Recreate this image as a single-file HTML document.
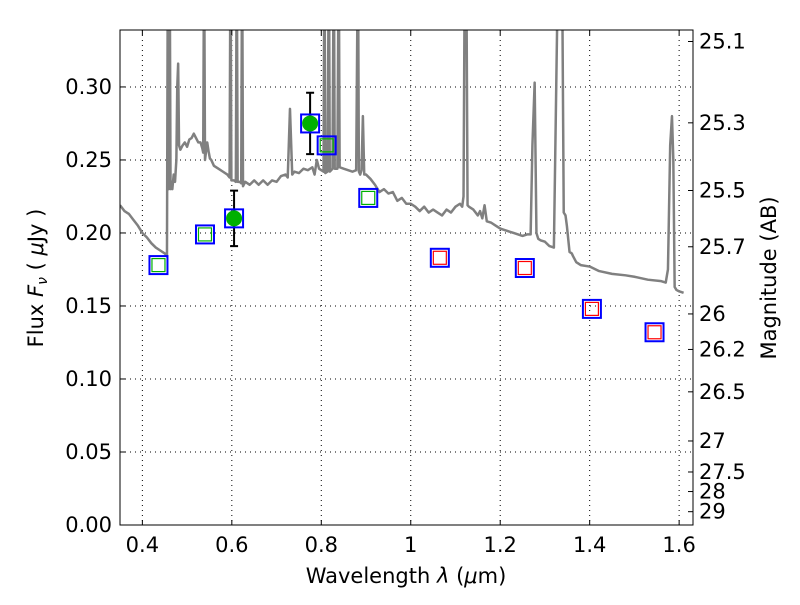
<!DOCTYPE html>
<html><head><meta charset="utf-8"><style>
body{margin:0;background:#fff}
svg text{font-family:"DejaVu Sans","Liberation Sans",sans-serif;fill:#000}
</style></head><body>
<svg id="c" width="800" height="600" xmlns="http://www.w3.org/2000/svg">
<defs><clipPath id="clip"><rect x="120" y="30" width="573" height="495"/></clipPath></defs>
<rect x="0" y="0" width="800" height="600" fill="#fff"/>
<g id="grid"></g>
<g id="spec" clip-path="url(#clip)"></g>
<g id="marks"></g>
<rect x="120" y="30" width="573" height="495" fill="none" stroke="#000" stroke-width="1"/>
<g id="axes"></g>
<text x="406" y="583" font-size="21" text-anchor="middle">Wavelength  <tspan font-style="italic">λ</tspan> (<tspan font-style="italic">μ</tspan>m)</text>
<text transform="translate(43,278) rotate(-90)" font-size="21" text-anchor="middle">Flux  <tspan font-style="italic">F</tspan><tspan font-style="italic" font-size="14" dy="4">ν</tspan><tspan dy="-4">  ( </tspan><tspan font-style="italic">μ</tspan>Jy )</text>
<text transform="translate(776,278) rotate(-90)" font-size="21" text-anchor="middle">Magnitude (AB)</text>
</svg>
<script>
const xTicks=[0.4,0.6,0.8,1.0,1.2,1.4,1.6];
const xTickLabels=["0.4","0.6","0.8","1","1.2","1.4","1.6"];
const yTicks=[0,0.05,0.10,0.15,0.20,0.25,0.30];
const yTickLabels=["0.00","0.05","0.10","0.15","0.20","0.25","0.30"];
const magTicks=[25.1,25.3,25.5,25.7,26,26.2,26.5,27,27.5,28,29];
const magTickLabels=["25.1","25.3","25.5","25.7","26","26.2","26.5","27","27.5","28","29"];
const specWl=[0.35,0.36,0.37,0.38,0.39,0.40,0.41,0.42,0.43,0.44,0.45,0.455,0.457,0.459,0.461,0.463,0.465,0.467,0.47,0.473,0.476,0.478,0.480,0.482,0.485,0.49,0.495,0.50,0.505,0.51,0.515,0.52,0.525,0.53,0.534,0.536,0.538,0.540,0.545,0.548,0.551,0.554,0.56,0.57,0.58,0.59,0.595,0.597,0.599,0.605,0.609,0.611,0.613,0.618,0.621,0.623,0.625,0.63,0.64,0.65,0.66,0.67,0.68,0.69,0.70,0.71,0.72,0.725,0.730,0.735,0.74,0.75,0.76,0.77,0.78,0.785,0.79,0.795,0.80,0.805,0.807,0.809,0.814,0.817,0.819,0.825,0.828,0.830,0.836,0.839,0.841,0.85,0.86,0.87,0.878,0.882,0.884,0.887,0.89,0.893,0.896,0.90,0.91,0.92,0.93,0.94,0.95,0.96,0.97,0.98,0.99,1.00,1.01,1.02,1.03,1.04,1.05,1.06,1.07,1.08,1.09,1.10,1.11,1.115,1.118,1.121,1.124,1.127,1.13,1.14,1.15,1.155,1.16,1.165,1.17,1.18,1.19,1.20,1.21,1.22,1.23,1.24,1.25,1.26,1.268,1.272,1.277,1.281,1.285,1.29,1.30,1.31,1.32,1.33,1.335,1.338,1.342,1.346,1.349,1.355,1.36,1.363,1.37,1.38,1.40,1.42,1.45,1.48,1.50,1.53,1.56,1.57,1.575,1.58,1.584,1.587,1.590,1.594,1.60,1.61,1.63];
const specFlux=[0.219,0.215,0.213,0.209,0.205,0.200,0.197,0.193,0.190,0.188,0.186,0.184,0.40,0.23,0.40,0.23,0.235,0.23,0.24,0.235,0.25,0.30,0.316,0.26,0.257,0.26,0.262,0.259,0.264,0.265,0.268,0.265,0.262,0.262,0.258,0.255,0.40,0.25,0.262,0.256,0.251,0.250,0.246,0.244,0.242,0.240,0.238,0.40,0.236,0.236,0.235,0.40,0.235,0.235,0.234,0.40,0.232,0.235,0.233,0.236,0.233,0.236,0.233,0.236,0.235,0.239,0.240,0.238,0.285,0.240,0.242,0.241,0.244,0.243,0.245,0.240,0.250,0.244,0.243,0.242,0.40,0.241,0.242,0.40,0.242,0.244,0.40,0.244,0.244,0.40,0.245,0.244,0.243,0.242,0.243,0.40,0.242,0.240,0.243,0.28,0.240,0.240,0.237,0.233,0.228,0.230,0.227,0.228,0.222,0.224,0.220,0.220,0.218,0.215,0.218,0.214,0.216,0.214,0.212,0.216,0.214,0.218,0.220,0.218,0.225,0.40,0.40,0.219,0.218,0.216,0.212,0.215,0.210,0.219,0.208,0.207,0.205,0.203,0.202,0.201,0.200,0.199,0.198,0.199,0.199,0.26,0.303,0.20,0.196,0.195,0.194,0.191,0.190,0.40,0.40,0.40,0.214,0.212,0.205,0.187,0.186,0.184,0.180,0.178,0.177,0.174,0.172,0.171,0.170,0.168,0.167,0.166,0.175,0.26,0.28,0.25,0.163,0.161,0.160,0.159];
const photWl=[0.436,0.540,0.605,0.775,0.812,0.905,1.065,1.255,1.405,1.545];
const photFlux=[0.178,0.199,0.210,0.275,0.260,0.224,0.183,0.176,0.148,0.132];
const photInner=["green","green","none","none","green","green","red","red","red","red"];
const obsWl=[0.605,0.775];
const obsFlux=[0.210,0.275];
const obsErr=[0.019,0.021];

const X0=120,X1=693,Y0=525,Y1=30,xmin=0.35,xmax=1.631,ymin=0,ymax=0.339;
const sx=v=>X0+(v-xmin)/(xmax-xmin)*(X1-X0);
const sy=v=>Y0-(v-ymin)/(ymax-ymin)*(Y0-Y1);
const NS="http://www.w3.org/2000/svg";
function mk(t,a,p){const e=document.createElementNS(NS,t);for(const k in a)e.setAttribute(k,a[k]);p.appendChild(e);return e;}
const grid=document.getElementById('grid'),axes=document.getElementById('axes'),spec=document.getElementById('spec'),marks=document.getElementById('marks');
xTicks.forEach((v,i)=>{const x=sx(v);
 const g=mk('line',{x1:x,x2:x,y1:Y1,y2:Y0,stroke:'#000','stroke-dasharray':'1,4','stroke-width':1},grid);
 
 
 mk('line',{x1:x,x2:x,y1:Y0,y2:Y0-5,stroke:'#000'},axes);
 mk('line',{x1:x,x2:x,y1:Y1,y2:Y1+5,stroke:'#000'},axes);
 const t=mk('text',{x:x,y:Y0+27,'font-size':21,'text-anchor':'middle'},axes);t.textContent=xTickLabels[i];
 
 });
yTicks.forEach((v,i)=>{const y=sy(v);
 const g=mk('line',{x1:X0,x2:X1,y1:y,y2:y,stroke:'#000','stroke-dasharray':'1,4','stroke-width':1},grid);
 
 
 mk('line',{x1:X0,x2:X0+5,y1:y,y2:y,stroke:'#000'},axes);
 const t=mk('text',{x:X0-8,y:y+7,'font-size':21,'text-anchor':'end'},axes);t.textContent=yTickLabels[i];
 
 });
magTicks.forEach((m,i)=>{const y=sy(Math.pow(10,(23.9-m)/2.5));
 mk('line',{x1:X1,x2:X1-5,y1:y,y2:y,stroke:'#000'},axes);
 const t=mk('text',{x:X1+6,y:y+7,'font-size':21},axes);t.textContent=magTickLabels[i];
 
 });
const sp=mk('polyline',{points:specWl.map((w,i)=>sx(w)+','+sy(specFlux[i])).join(' '),fill:'none',stroke:'#808080','stroke-width':2.5,'stroke-linejoin':'round'},spec);


obsWl.forEach((w,i)=>{const x=sx(w),y1=sy(obsFlux[i]-obsErr[i]),y2=sy(obsFlux[i]+obsErr[i]);
 const e=mk('path',{d:`M${x},${y1}V${y2}M${x-4},${y1}H${x+4}M${x-4},${y2}H${x+4}`,stroke:'#000','stroke-width':2,fill:'none'},marks);
 
 });
photWl.forEach((w,i)=>{const x=sx(w),y=sy(photFlux[i]);
 const r=mk('rect',{x:x-9,y:y-9,width:18,height:18,fill:'none',stroke:'#0000ff','stroke-width':2},marks);
 
 
 if(photInner[i]!=='none'){const q=mk('rect',{x:x-6.5,y:y-6.5,width:13,height:13,fill:'none',stroke:photInner[i]==='green'?'#00b000':'#ff0000','stroke-width':1.2},marks);
 
 }});
obsWl.forEach((w,i)=>{const c=mk('circle',{cx:sx(w),cy:sy(obsFlux[i]),r:8,fill:'#00b000'},marks);
 
 });
</script>
</body></html>
